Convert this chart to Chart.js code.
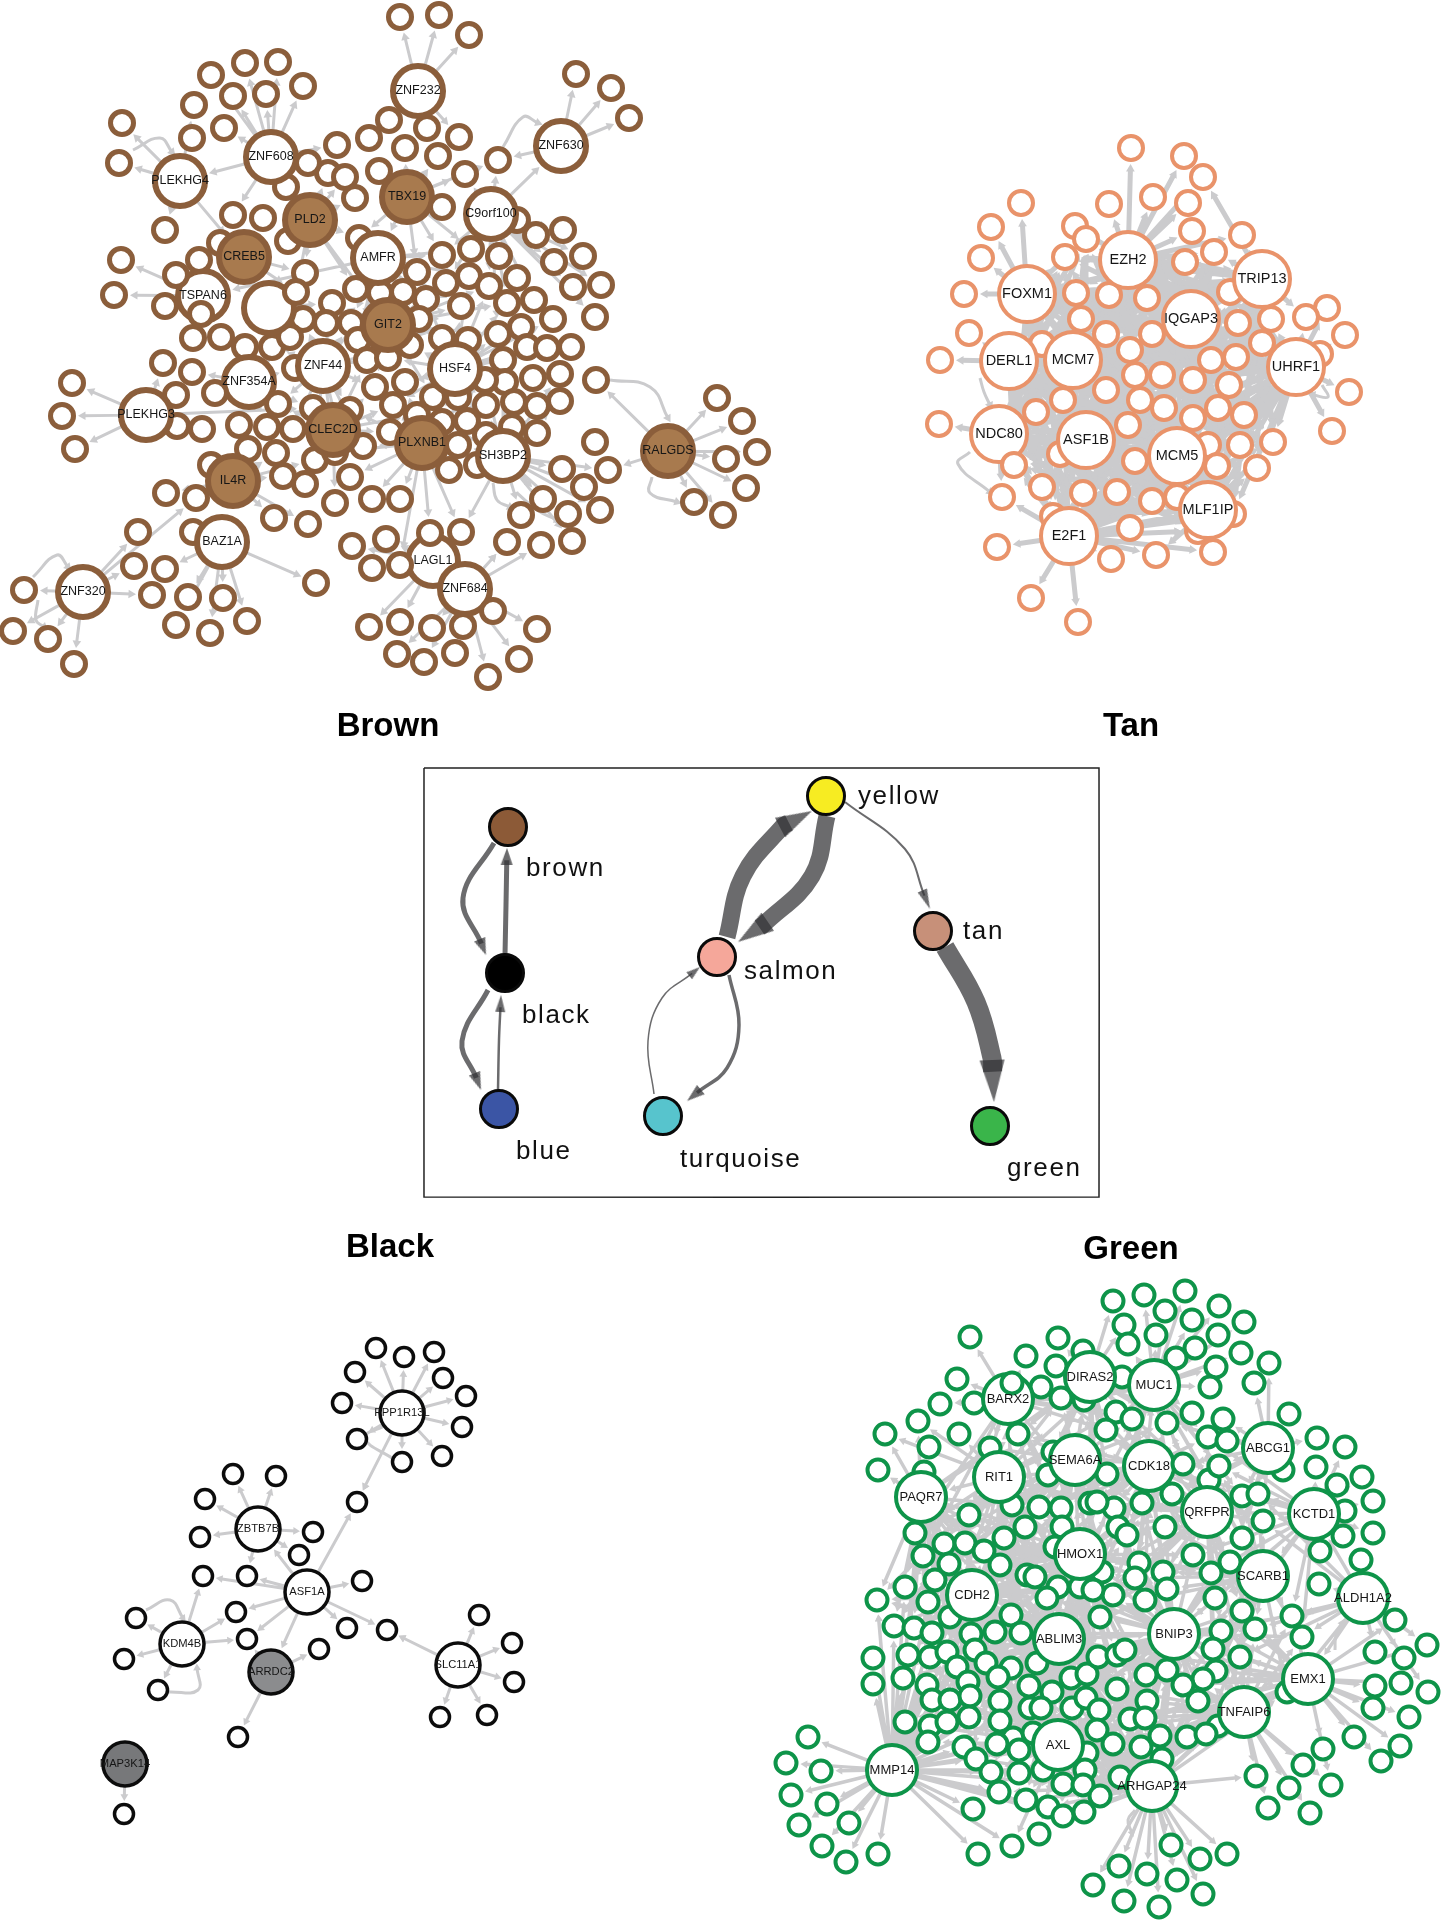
<!DOCTYPE html>
<html>
<head>
<meta charset="utf-8">
<title>Module networks</title>
<script src="https://cdn.jsdelivr.net/npm/chart.js@4"></script>
<style>
  html, body { margin: 0; padding: 0; background: #fff; }
  canvas { display: block; }
</style>
</head>
<body>
<canvas id="net" width="1443" height="1920"></canvas>
<script>
const brownHubNames = ["ZNF608","PLEKHG4","PLD2","CREB5","AMFR","TSPAN6","","GIT2","TBX19","ZNF232","ZNF630","C9orf100","ZNF354A","ZNF44","PLEKHG3","CLEC2D","IL4R","BAZ1A","ZNF320","HSF4","PLXNB1","SH3BP2","RALGDS","LAGL1","ZNF684"];
const brownHubs = [[271,157],[180,181],[310,220],[244,257],[378,258],[203,296],[269,308],[388,325],[407,197],[418,91],[561,146],[491,214],[249,382],[323,366],[146,415],[333,430],[233,481],[222,542],[83,592],[455,369],[422,443],[503,456],[668,451],[433,561],[465,589]];
const brownFilled = ["PLD2","CREB5","GIT2","TBX19","CLEC2D","IL4R","PLXNB1","RALGDS"];
const brownLeaves = [[122,123],[119,163],[211,75],[245,63],[278,62],[303,86],[233,96],[266,94],[194,105],[224,128],[192,138],[337,145],[369,138],[389,120],[400,17],[379,171],[328,173],[345,177],[355,198],[286,187],[233,215],[263,218],[165,230],[288,241],[220,243],[121,260],[114,295],[305,273],[359,238],[356,289],[380,293],[332,303],[303,319],[326,323],[351,323],[358,340],[193,338],[221,337],[245,347],[272,347],[290,337],
  [439,15],[469,35],[576,74],[611,88],[629,118],[427,128],[459,137],[405,148],[438,156],[498,160],[465,174],[517,220],[536,235],[563,230],[554,262],[583,256],[573,287],[601,285],[595,317],[442,255],[471,249],[499,256],[417,272],[446,283],[469,276],[489,286],[517,278],[426,299],[461,306],[507,303],[534,300],[553,319],[521,327],[498,334],[419,319],[442,338],[468,340],[410,345],[527,347],[547,348],[571,347],[403,292],
  [163,363],[192,372],[72,383],[62,416],[75,449],[176,395],[177,426],[202,429],[239,425],[267,427],[293,429],[295,368],[375,387],[367,360],[388,358],[393,405],[390,432],[248,449],[276,453],[363,446],[315,460],[335,452],[313,408],[350,410],[211,465],[283,476],[305,484],[350,477],[166,493],[196,498],[335,503],[372,499],[400,499],[274,518],[308,524],[138,532],[193,532],[352,546],[386,539],[372,568],[134,566],[165,569],[152,595],[188,597],[223,598],[24,590],[13,631],[48,639],[74,664],[176,625],[210,633],[247,621],[316,583],[369,627],[400,622],[397,654],
  [596,380],[503,360],[560,374],[533,378],[505,382],[485,380],[405,382],[433,397],[458,397],[486,405],[514,402],[537,406],[560,401],[417,415],[442,422],[467,421],[512,427],[537,433],[486,435],[449,470],[477,465],[595,442],[562,469],[608,470],[584,487],[543,499],[600,510],[568,514],[521,515],[507,542],[541,545],[572,541],[461,532],[537,629],[463,626],[432,628],[455,653],[424,662],[519,659],[488,677],[717,398],[742,421],[757,452],[726,459],[746,488],[694,502],[723,515]];
const brownFront = [[308,163],[199,260],[176,275],[201,314],[296,292],[165,306],[442,207],[458,445],[215,393],[278,404],[430,533],[400,565],[493,611]];
const brownManualHubs = ["RALGDS"];
const brownExtras = [["ZNF320",196,498],["ZNF608",233,215],["ZNF630",498,160],["TBX19",465,174],["TBX19",498,160],["RALGDS",717,398],["RALGDS",742,421],["RALGDS",757,452],["RALGDS",726,459],["RALGDS",746,488],["RALGDS",694,502],["RALGDS",723,515],["RALGDS",608,470],["RALGDS",596,380],["SH3BP2",608,470],["SH3BP2",600,510],["ZNF684",507,542],["PLXNB1",461,532],["PLXNB1",430,533],["PLXNB1",400,565],["SH3BP2",461,532],["PLEKHG3",313,408]];
const brownHubLinks = [["ZNF608","PLEKHG4"],["PLEKHG4","CREB5"],["C9orf100","ZNF630"],["TBX19","AMFR"],["PLD2","GIT2"],["AMFR","TSPAN6"],["ZNF608","PLD2"]];
const brownCurves = [[[133,150],[160,138],[172,152]],[[610,380],[650,387],[668,418]],[[652,477],[650,493],[677,502]],[[503,147],[523,117],[538,123]],[[33,577],[57,555],[68,567]],[[38,600],[36,620],[44,627]],[[493,483],[497,500],[510,507]],[[517,493],[537,510],[557,520]]];

const tanHubNames = ["EZH2","FOXM1","TRIP13","IQGAP3","DERL1","MCM7","UHRF1","NDC80","ASF1B","MCM5","MLF1IP","E2F1"];
const tanHubs = [[1128,260],[1027,294],[1262,279],[1191,319],[1009,361],[1073,360],[1296,367],[999,434],[1086,440],[1177,456],[1208,510],[1069,536]];
const tanLeaves = [[1131,148],[1184,156],[1203,177],[1153,197],[1109,204],[1188,203],[1021,203],[991,227],[1075,226],[1086,239],[1192,231],[1242,235],[981,258],[1065,257],[1214,252],[1185,262],[964,294],[1076,293],[1109,295],[1147,298],[1230,292],[1327,308],[1306,317],[1345,335],[1081,319],[1238,323],[1271,319],[1106,334],[1152,334],[969,333],[1042,344],[1262,343],[1130,350],[1236,357],[1211,360],[940,360],[1135,375],[1162,375],[1193,380],[1229,385],[1320,354],[1349,392],[1106,390],[1140,400],[1063,400],[1164,408],[1218,408],[1244,415],[1193,418],[1036,412],[1128,425],[939,424],[1332,431],[1240,445],[1273,442],[1208,445],[1217,466],[1257,468],[1135,461],[1060,454],[1042,487],[1002,497],[1083,493],[1117,492],[1152,501],[1177,497],[1233,514],[1130,528],[1053,516],[1198,531],[1213,552],[1156,555],[1111,559],[997,547],[1031,598],[1078,622]];
const tanFront = [[1014,465]];
const tanExtras = [["E2F1",1156,555],["E2F1",1213,552],["E2F1",1198,531],["E2F1",1130,528],["E2F1",1002,497],["UHRF1",1262,343],["UHRF1",1244,415],["UHRF1",1273,442],["TRIP13",1306,317],["EZH2",1242,235],["TRIP13",1203,177]];
const tanHubLinks = [["EZH2","TRIP13"],["EZH2","UHRF1"],["FOXM1","TRIP13"],["FOXM1","UHRF1"],["FOXM1","MCM5"],["MCM7","UHRF1"],["MCM7","TRIP13"],["MCM7","MCM5"],["ASF1B","UHRF1"],["ASF1B","TRIP13"],["ASF1B","MLF1IP"],["E2F1","MLF1IP"],["E2F1","UHRF1"],["E2F1","MCM5"],["E2F1","IQGAP3"],["NDC80","ASF1B"],["NDC80","E2F1"],["DERL1","MCM7"],["MCM5","UHRF1"],["IQGAP3","ASF1B"]];
const tanCurves = [[[970,452],[958,464],[990,492]],[[1322,385],[1328,397],[1313,395]],[[980,378],[984,392],[990,405]]];

const blackHubNames = ["PPP1R13L","ZBTB7B","ASF1A","KDM4B","SLC11A1","ARRDC2","MAP3K14"];
const blackHubs = [[402,1413],[258,1529],[307,1592],[182,1644],[458,1665],[271,1672],[125,1764]];
const blackFilled = ["ARRDC2","MAP3K14"];
const blackLeaves = [[376,1348],[404,1357],[434,1352],[355,1372],[443,1378],[466,1396],[342,1403],[462,1427],[357,1439],[442,1456],[402,1462],[357,1502],[233,1474],[276,1476],[205,1499],[200,1537],[313,1532],[299,1555],[203,1576],[247,1576],[362,1581],[236,1612],[136,1618],[247,1639],[347,1628],[387,1630],[319,1649],[124,1659],[158,1690],[479,1615],[512,1643],[514,1682],[487,1715],[440,1717],[238,1737],[124,1814]];
const blackExtras = [["ASF1A",357,1502],["ASF1A",203,1576],["ASF1A",247,1576],["ASF1A",236,1612],["ASF1A",247,1639],["ASF1A",387,1630],["SLC11A1",387,1630],["KDM4B",236,1612],["KDM4B",247,1639],["ZBTB7B",299,1555],["PPP1R13L",357,1502]];
const blackHubLinks = [["ASF1A","ZBTB7B"],["ASF1A","ARRDC2"]];
const blackCurves = [[[146,1610],[170,1600],[183,1618]],[[168,1692],[198,1690],[197,1668]],[[395,1460],[365,1438],[386,1425]]];

const greenHubNames = ["BARX2","RIT1","PAQR7","SEMA6A","HMOX1","CDH2","DIRAS2","MUC1","ABCG1","CDK18","QRFPR","KCTD1","SCARB1","ALDH1A2","ABLIM3","AXL","MMP14","BNIP3","EMX1","TNFAIP6","ARHGAP24"];
const greenHubs = [[1008,1399],[999,1477],[921,1497],[1075,1460],[1080,1554],[972,1595],[1090,1377],[1154,1385],[1268,1448],[1149,1466],[1207,1512],[1314,1514],[1263,1576],[1363,1598],[1059,1639],[1058,1745],[892,1770],[1174,1634],[1308,1679],[1244,1712],[1152,1786]];
const greenLeaves = [[970,1337],[1058,1338],[1026,1356],[1083,1351],[1056,1366],[957,1379],[1041,1387],[940,1404],[974,1403],[1061,1398],[1084,1400],[918,1421],[885,1434],[959,1434],[1018,1434],[929,1447],[990,1448],[1053,1452],[878,1470],[924,1472],[1048,1475],[1012,1505],[1039,1507],[1061,1508],[969,1515],[1090,1503],[1025,1527],[915,1533],[1004,1538],[1062,1527],[944,1544],[965,1543],[984,1551],[1055,1547],[923,1556],[949,1564],[1000,1565],[935,1580],[1027,1575],[1035,1577],[905,1587],[1058,1587],[877,1600],[928,1602],[1047,1598],[1080,1587],
  [1113,1301],[1144,1295],[1185,1291],[1219,1306],[1165,1311],[1192,1320],[1244,1322],[1124,1325],[1156,1335],[1218,1335],[1128,1344],[1195,1348],[1176,1358],[1241,1353],[1269,1363],[1216,1367],[1210,1387],[1254,1383],[1122,1377],[1192,1413],[1116,1412],[1132,1419],[1167,1423],[1106,1430],[1223,1419],[1289,1414],[1208,1437],[1227,1441],[1317,1438],[1345,1447],[1107,1474],[1316,1467],[1362,1477],[1209,1480],[1283,1470],[1337,1485],[1172,1494],[1142,1503],[1242,1496],[1258,1494],[1373,1501],[1114,1508],[1097,1502],[1345,1511],[1165,1527],[1263,1521],[1373,1533],[1343,1536],[1118,1527],[1127,1535],[1242,1538],[1193,1555],[1361,1560],[1139,1563],[1230,1562],[1211,1573],[1163,1572],[1135,1578],[1102,1572],[1319,1584],[1167,1589],[1215,1598],[1113,1595],[1145,1600],[1093,1590],
  [894,1626],[914,1628],[932,1633],[971,1634],[995,1632],[1011,1615],[1021,1633],[950,1617],[975,1650],[873,1658],[908,1655],[930,1657],[947,1652],[957,1667],[986,1663],[1011,1668],[1037,1663],[873,1684],[903,1678],[927,1685],[968,1682],[998,1677],[1029,1686],[1071,1678],[1087,1674],[1098,1657],[932,1700],[950,1700],[970,1696],[1000,1701],[1052,1692],[1030,1708],[1041,1708],[1072,1708],[1086,1698],[1099,1710],[905,1722],[930,1726],[947,1722],[969,1717],[1000,1721],[928,1742],[1013,1738],[1033,1733],[1097,1730],[808,1737],[964,1747],[997,1744],[1019,1750],[1087,1753],[786,1763],[821,1771],[976,1759],[1043,1770],[1085,1770],[791,1795],[991,1772],[1019,1773],[1063,1784],[1083,1785],[827,1804],[999,1792],[1026,1800],[1048,1807],[1100,1796],[973,1809],[1063,1816],[1084,1812],[799,1825],[849,1823],[1039,1834],[822,1846],[1012,1846],[978,1854],[878,1854],[846,1862],[1093,1885],
  [1100,1617],[1292,1616],[1302,1637],[1242,1611],[1255,1629],[1221,1631],[1395,1620],[1427,1645],[1213,1649],[1375,1652],[1404,1658],[1240,1657],[1117,1655],[1125,1650],[1146,1675],[1216,1671],[1203,1679],[1375,1686],[1401,1683],[1428,1692],[1183,1685],[1117,1689],[1198,1701],[1147,1701],[1287,1692],[1373,1708],[1409,1717],[1130,1719],[1145,1718],[1218,1726],[1187,1737],[1354,1737],[1160,1736],[1113,1744],[1141,1747],[1400,1746],[1323,1749],[1381,1761],[1162,1759],[1303,1765],[1256,1776],[1120,1777],[1331,1785],[1289,1788],[1268,1808],[1310,1813],[1171,1845],[1227,1854],[1200,1859],[1119,1866],[1147,1874],[1177,1880],[1203,1894],[1124,1901],[1159,1907]];
const greenFront = [[1012,1383],[1183,1464],[1219,1466],[1320,1551],[1206,1734],[1167,1670]];
const greenExtras = [["MMP14",877,1600],["MMP14",905,1722],["MMP14",1012,1846],["MMP14",999,1792],["MMP14",873,1684],["ARHGAP24",1256,1776],["EMX1",1395,1620],["EMX1",1427,1645],["RIT1",885,1434],["PAQR7",878,1470],["RIT1",918,1421],["TNFAIP6",1331,1785],["ARHGAP24",1093,1885]];
const greenHubLinks = [["RIT1","PAQR7"],["RIT1","ABLIM3"],["RIT1","CDK18"],["BARX2","HMOX1"],["MUC1","SCARB1"],["MUC1","ABLIM3"],["CDK18","ABLIM3"],["SEMA6A","BNIP3"],["QRFPR","ABLIM3"],["KCTD1","SCARB1"],["KCTD1","QRFPR"],["KCTD1","BNIP3"],["CDH2","ABLIM3"],["ABLIM3","BNIP3"],["EMX1","BNIP3"],["EMX1","ABLIM3"],["TNFAIP6","ABLIM3"],["ARHGAP24","BNIP3"],["SCARB1","HMOX1"],["ALDH1A2","EMX1"],["ALDH1A2","KCTD1"]];
const greenCurves = [[[1335,1650],[1336,1635],[1342,1623]],[[1135,1810],[1128,1820],[1132,1833]]];

const moduleNames = ["brown","black","blue","yellow","salmon","turquoise","tan","green"];
const moduleNodes = [[508,827],[505,973],[499,1109],[826,796],[717,957],[663,1116],[933,931],[990,1126]];
const moduleColors = ["#8c5a37","#000000","#3b55a5","#f7ec22","#f5a79a","#57c4cd","#c79079","#3ab54a"];
const moduleLabelSpots = [[526,869],[522,1016],[516,1152],[858,797],[744,972],[680,1160],[963,932],[1007,1169]];
const modulePaths = [
  [[494,843],[463,898],[486,955]],
  [[505,955],[506,905],[507,848]],
  [[488,990],[462,1041],[481,1090]],
  [[498,1090],[499,1040],[501,995]],
  [[727,937],[743,876],[783,826],[812,811]],
  [[827,816],[812,876],[763,925],[738,942]],
  [[845,802],[905,849],[930,909]],
  [[945,947],[976,1002],[992,1058],[994,1102]],
  [[654,1094],[648,1041],[662,998],[700,967]],
  [[729,975],[739,1025],[727,1068],[687,1101]]
];
const modulePathWidths = [5,5,5,2.5,17,17,2,19,1.5,3.5];
const moduleHeadWidths = [12,12,12,10,22,22,10,25,9,12];
const moduleHeadLengths = [17,17,18,17,36,36,20,42,14,18];

const panelTitles = ["Brown","Tan","Black","Green"];
const panelTitleSpots = [[388,727],[1131,727],[390,1248],[1131,1250]];
const boxCorners = [[424,768],[1099,768],[1099,1197],[424,1197],[424,768]];

const EDGE = "#cbcbcd";
const datasets = [];
const labels = [];

const toXY = (p) => ({ x: p[0], y: p[1] });
const dist = (a, b) => Math.hypot(a[0] - b[0], a[1] - b[1]);

// pull the end of an edge back from the target so the arrow sits just off the ring
function edgeTo(from, to, gap) {
  const d = dist(from, to) || 1;
  const k = (d - gap) / d;
  return [from[0] + (to[0] - from[0]) * k, from[1] + (to[1] - from[1]) * k];
}

function headAngle(from, to) {
  return (Math.atan2(to[0] - from[0], -(to[1] - from[1])) * 180) / Math.PI;
}

function addPanel(p) {
  const all = p.leaves.concat(p.front || []);
  const manual = (p.manualHubs || []).map((n) => p.hubs[p.names.indexOf(n)]);
  const links = [];
  all.forEach((leaf) => {
    const ranked = p.hubs.slice().sort((a, b) => dist(a, leaf) - dist(b, leaf));
    // leaves of a hand-listed hub only get the links in the extras list
    if (manual.includes(ranked[0])) return;
    links.push([ranked[0], leaf, p.leafOuter]);
    if (dist(leaf, p.center) < p.coreR) {
      ranked.slice(1, p.coreLinks).forEach((h) => {
        if (dist(h, leaf) < p.coreReach) links.push([h, leaf, p.leafOuter]);
      });
    }
  });
  (p.extras || []).forEach((e) => {
    links.push([p.hubs[p.names.indexOf(e[0])], [e[1], e[2]], p.leafOuter]);
  });
  (p.hubLinks || []).forEach((e) => {
    links.push([p.hubs[p.names.indexOf(e[0])], p.hubs[p.names.indexOf(e[1])], p.hubOuter]);
  });

  const edgePoints = [];
  const arrowPoints = [];
  const arrowAngles = [];
  links.forEach((l) => {
    const tipGap = l[2] + 2 + p.arrow;
    const end = edgeTo(l[0], l[1], tipGap);
    edgePoints.push(toXY(l[0]), toXY(end), { x: NaN, y: NaN });
    arrowPoints.push(toXY(end));
    arrowAngles.push(headAngle(l[0], l[1]));
  });
  const curvePoints = [];
  (p.curves || []).forEach((c) => {
    c.forEach((q) => curvePoints.push(toXY(q)));
    curvePoints.push({ x: NaN, y: NaN });
    arrowPoints.push(toXY(c[c.length - 1]));
    arrowAngles.push(headAngle(c[c.length - 2], c[c.length - 1]));
  });

  const line = { showLine: true, pointRadius: 0, borderColor: EDGE, fill: false, spanGaps: false, clip: false };
  datasets.push({ ...line, data: edgePoints, borderWidth: p.edgeWidth, order: 60, tension: 0.001 });
  datasets.push({ ...line, data: curvePoints, borderWidth: 3, order: 60, tension: 0.45 });
  datasets.push({
    data: arrowPoints, showLine: false, pointStyle: "triangle", pointRadius: p.arrow,
    pointRotation: arrowAngles, pointBackgroundColor: EDGE, pointBorderWidth: 0, order: 50, clip: false
  });
  const ring = { showLine: false, pointStyle: "circle", pointBorderColor: p.color, clip: false };
  datasets.push({ ...ring, data: p.leaves.map(toXY), pointRadius: p.leafR, pointBorderWidth: p.leafW, pointBackgroundColor: "#fff", order: 40 });
  datasets.push({
    ...ring, data: p.hubs.map(toXY), pointRadius: p.hubR, pointBorderWidth: p.hubW,
    pointBackgroundColor: p.names.map((n) => ((p.filled || []).includes(n) ? (p.fillFor ? p.fillFor(n) : p.fill) : "#fff")),
    order: 30
  });
  if (p.front) {
    datasets.push({ ...ring, data: p.front.map(toXY), pointRadius: p.leafR, pointBorderWidth: p.leafW, pointBackgroundColor: "#fff", order: 20 });
  }
  p.names.forEach((n, i) => {
    if (n) labels.push({ text: n, x: p.hubs[i][0], y: p.hubs[i][1], font: p.labelFont + "px 'Liberation Sans'", color: "#161616", align: "center" });
  });
}

addPanel({ names: brownHubNames, hubs: brownHubs, leaves: brownLeaves, front: brownFront, filled: brownFilled, manualHubs: brownManualHubs,
  extras: brownExtras, hubLinks: brownHubLinks, curves: brownCurves, color: "#8b5e3b", fill: "#a87a4e",
  hubR: 25, hubW: 6, leafR: 11.5, leafW: 5, leafOuter: 14, hubOuter: 28, arrow: 5, edgeWidth: 3,
  center: [385, 350], coreR: 135, coreLinks: 3, coreReach: 130, labelFont: 12.5 });
addPanel({ names: tanHubNames, hubs: tanHubs, leaves: tanLeaves, front: tanFront,
  extras: tanExtras, hubLinks: tanHubLinks, curves: tanCurves, color: "#e9936a",
  hubR: 28, hubW: 4, leafR: 12, leafW: 4, leafOuter: 14, hubOuter: 30, arrow: 5, edgeWidth: 5,
  center: [1135, 390], coreR: 165, coreLinks: 9, coreReach: 300, labelFont: 14.5 });
addPanel({ names: blackHubNames, hubs: blackHubs, leaves: blackLeaves, filled: blackFilled,
  extras: blackExtras, hubLinks: blackHubLinks, curves: blackCurves, color: "#0c0c0c",
  fillFor: (n) => (n === "ARRDC2" ? "#8b8c8e" : "#77787a"),
  hubR: 22, hubW: 3.5, leafR: 9.5, leafW: 3.5, leafOuter: 11, hubOuter: 24, arrow: 4.5, edgeWidth: 3,
  center: [0, 0], coreR: 0, coreLinks: 1, coreReach: 0, labelFont: 11.2 });
addPanel({ names: greenHubNames, hubs: greenHubs, leaves: greenLeaves, front: greenFront,
  extras: greenExtras, hubLinks: greenHubLinks, curves: greenCurves, color: "#0e9449",
  hubR: 25, hubW: 4, leafR: 10.5, leafW: 4, leafOuter: 12.5, hubOuter: 27, arrow: 4.5, edgeWidth: 3.5,
  center: [1090, 1610], coreR: 215, coreLinks: 6, coreReach: 190, labelFont: 13 });

// module diagram in the middle box
function arrowHead(w, l) {
  const c = document.createElement("canvas");
  c.width = w;
  c.height = l;
  const g = c.getContext("2d");
  g.fillStyle = "rgba(50,50,53,0.72)";
  g.beginPath();
  g.moveTo(w / 2, 0);
  g.lineTo(w, l);
  g.lineTo(0, l);
  g.closePath();
  g.fill();
  return c;
}

datasets.push({ data: boxCorners.map(toXY), showLine: true, pointRadius: 0, borderColor: "#222", borderWidth: 1.5, tension: 0.001, order: 70 });
modulePaths.forEach((path, i) => {
  const n = path.length;
  const tip = path[n - 1];
  const prev = path[n - 2];
  const l = moduleHeadLengths[i];
  const d = dist(prev, tip);
  const ux = (tip[0] - prev[0]) / d;
  const uy = (tip[1] - prev[1]) / d;
  const shaftEnd = [tip[0] - ux * l * 0.72, tip[1] - uy * l * 0.72];
  datasets.push({
    data: path.slice(0, n - 1).concat([shaftEnd]).map(toXY), showLine: true, pointRadius: 0,
    borderColor: "rgba(50,50,53,0.72)", borderWidth: modulePathWidths[i], tension: 0.4, order: 15
  });
  datasets.push({
    data: [toXY([tip[0] - (ux * l) / 2, tip[1] - (uy * l) / 2])], showLine: false,
    pointStyle: arrowHead(moduleHeadWidths[i], l), pointRotation: headAngle(prev, tip), pointRadius: l / 2, order: 14
  });
});
datasets.push({
  data: moduleNodes.map(toXY), showLine: false, pointStyle: "circle", pointRadius: 18.5, pointBorderWidth: 3,
  pointBorderColor: "#0a0a0a", pointBackgroundColor: moduleColors, order: 5
});
moduleNames.forEach((n, i) => {
  labels.push({ text: n, x: moduleLabelSpots[i][0], y: moduleLabelSpots[i][1], font: "26px 'Liberation Sans'", color: "#111", align: "left", spacing: "1.6px" });
});
panelTitles.forEach((t, i) => {
  labels.push({ text: t, x: panelTitleSpots[i][0], y: panelTitleSpots[i][1], font: "bold 33px 'Liberation Sans'", color: "#000", align: "center" });
});

const labelPlugin = {
  id: "nodeLabels",
  afterDatasetsDraw(chart) {
    const { ctx, scales } = chart;
    ctx.save();
    ctx.textBaseline = "middle";
    labels.forEach((l) => {
      ctx.font = l.font;
      ctx.fillStyle = l.color;
      ctx.textAlign = l.align;
      ctx.letterSpacing = l.spacing || "0px";
      ctx.fillText(l.text, scales.x.getPixelForValue(l.x), scales.y.getPixelForValue(l.y));
    });
    ctx.restore();
  }
};

new Chart(document.getElementById("net"), {
  type: "scatter",
  data: { datasets },
  options: {
    responsive: false,
    animation: false,
    events: [],
    layout: { padding: 0, autoPadding: false },
    plugins: { legend: { display: false }, tooltip: { enabled: false } },
    scales: {
      x: { type: "linear", min: 0, max: 1443, display: false },
      y: { type: "linear", min: 0, max: 1920, reverse: true, display: false }
    }
  },
  plugins: [labelPlugin]
});
</script>
</body>
</html>
